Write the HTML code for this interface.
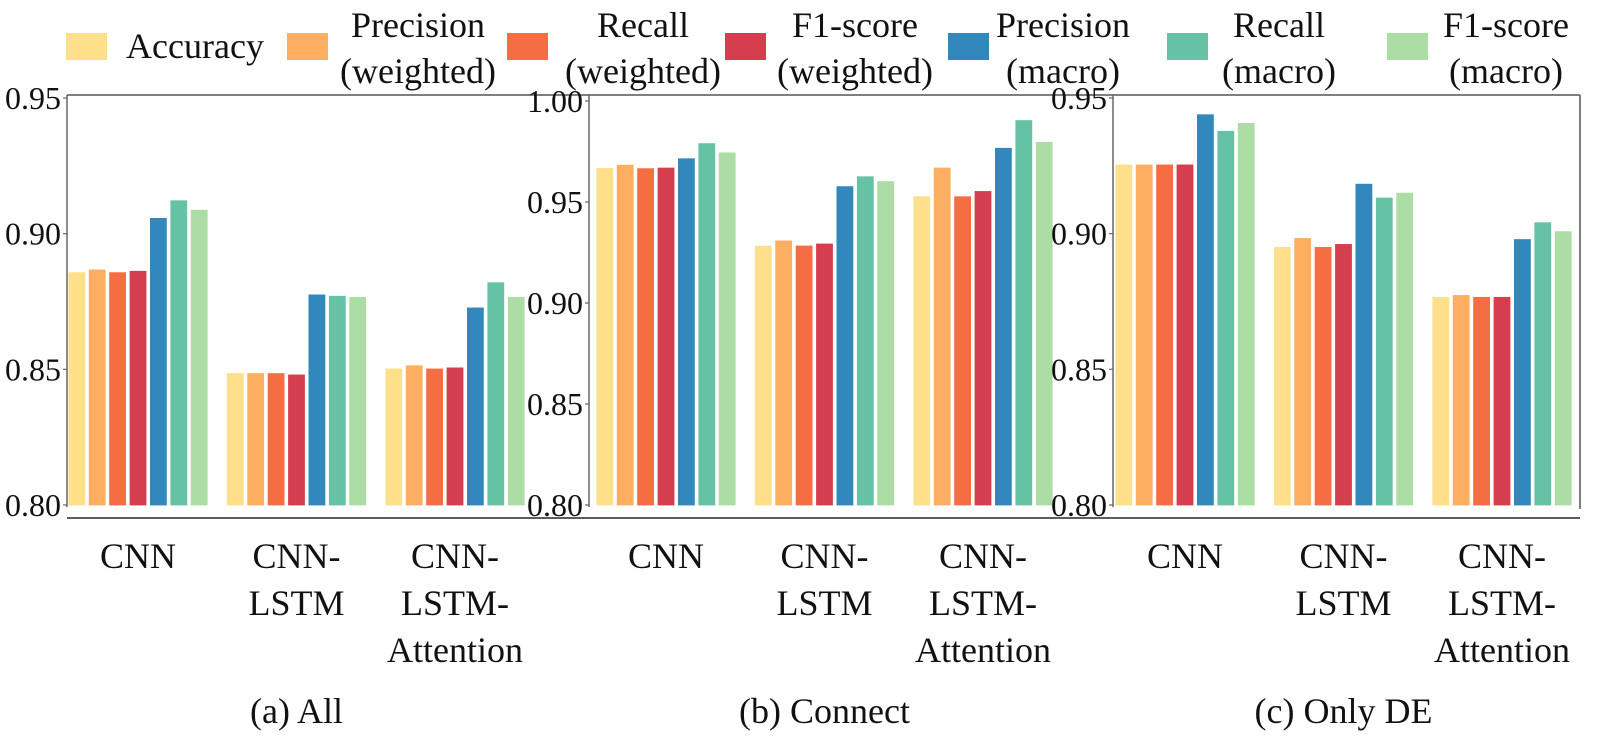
<!DOCTYPE html>
<html><head><meta charset="utf-8">
<style>
html,body{margin:0;padding:0;background:#fff;}
svg{display:block;}
svg text{font-family:"Liberation Serif","DejaVu Serif",serif;}
</style></head>
<body>
<svg id="chart" width="1599" height="743" viewBox="0 0 1599 743" xmlns="http://www.w3.org/2000/svg" font-family="'Liberation Serif', 'DejaVu Serif', serif">
  <g id="legend"></g>
  <g id="plots"></g>
</svg>
<script>
// ---- data ----
const categories = [["CNN"], ["CNN-", "LSTM"], ["CNN-", "LSTM-", "Attention"]];
const seriesNames = [["Accuracy"], ["Precision", "(weighted)"], ["Recall", "(weighted)"], ["F1-score", "(weighted)"], ["Precision", "(macro)"], ["Recall", "(macro)"], ["F1-score", "(macro)"]];
const colors = ["#fee08b", "#fdae61", "#f46d43", "#d53e4f", "#3288bd", "#66c2a5", "#abdda4"];
const panelTitles = ["(a) All", "(b) Connect", "(c) Only DE"];
const valuesAll = [
  [0.886, 0.887, 0.886, 0.8865, 0.906, 0.9125, 0.909],
  [0.8488, 0.8488, 0.8488, 0.8483, 0.8778, 0.8773, 0.8769],
  [0.8505, 0.8517, 0.8505, 0.8509, 0.873, 0.8823, 0.8769]
];
const valuesConnect = [
  [0.9671, 0.9687, 0.967, 0.9673, 0.9719, 0.9794, 0.9748],
  [0.9287, 0.9312, 0.9287, 0.9297, 0.9581, 0.963, 0.9606],
  [0.9531, 0.9673, 0.9531, 0.9557, 0.9771, 0.9908, 0.98]
];
const valuesOnlyDE = [
  [0.9257, 0.9257, 0.9257, 0.9257, 0.9442, 0.9381, 0.941],
  [0.8953, 0.8986, 0.8953, 0.8964, 0.9186, 0.9135, 0.9153],
  [0.8769, 0.8776, 0.8769, 0.8769, 0.8982, 0.9044, 0.9011]
];
const ticksAll = [0.80, 0.85, 0.90, 0.95];
const ticksConnect = [0.80, 0.85, 0.90, 0.95, 1.00];
const ticksOnlyDE = [0.80, 0.85, 0.90, 0.95];
const domainAll = [0.80, 0.95];
const domainConnect = [0.80, 1.00];
const domainOnlyDE = [0.80, 0.95];

// ---- layout ----
const NS = "http://www.w3.org/2000/svg";
const FONT = "'Liberation Serif', 'DejaVu Serif', serif";
const legendG = document.getElementById("legend");
const plotsG = document.getElementById("plots");
function mk(tag, attrs, parent) {
  const e = document.createElementNS(NS, tag);
  for (const k in attrs) e.setAttribute(k, attrs[k]);
  if (tag === "text") e.setAttribute("font-family", FONT);
  parent.appendChild(e);
  return e;
}
const yBottom = 505;
const panels = [
  {axisX: 67, yTop: 98, values: valuesAll, ticks: ticksAll, domain: domainAll, title: panelTitles[0], key: "all"},
  {axisX: 589, yTop: 101, values: valuesConnect, ticks: ticksConnect, domain: domainConnect, title: panelTitles[1], key: "connect"},
  {axisX: 1113, yTop: 98, values: valuesOnlyDE, ticks: ticksOnlyDE, domain: domainOnlyDE, title: panelTitles[2], key: "only-de"}
];
const groupOffset = [71, 77, 72];
const groupStep = 158.5;
const barStep = 20.4;
const barW = 18;

let l;
l = mk("line", {x1: 67, y1: 95, x2: 1580, y2: 95, stroke: "#555", "stroke-width": 1.5}, plotsG);


l = mk("line", {x1: 67, y1: 518, x2: 1580, y2: 518, stroke: "#444", "stroke-width": 1.8}, plotsG);


l = mk("line", {x1: 1580, y1: 95, x2: 1580, y2: 509, stroke: "#555", "stroke-width": 1.5}, plotsG);



panels.forEach((p, pi) => {
  const g = mk("g", {}, plotsG);
  
  
  const y = v => yBottom - (v - p.domain[0]) / (p.domain[1] - p.domain[0]) * (yBottom - p.yTop);
  const groupCenter = gi => p.axisX + groupOffset[pi] + gi * groupStep;
  p.values.forEach((row, gi) => {
    row.forEach((v, si) => {
      const cx = groupCenter(gi) + (si - 3) * barStep;
      const r = mk("rect", {x: cx - barW / 2, y: y(v), width: barW, height: yBottom + 1 - y(v), fill: colors[si], stroke: "#fff", "stroke-width": 1.2}, g);
      
      
    });
  });
  const ax = mk("line", {x1: p.axisX, y1: 95, x2: p.axisX, y2: 507, stroke: "#666", "stroke-width": 1.5}, g);
  
  
  p.ticks.forEach(t => {
    const tk = mk("line", {x1: p.axisX - 4, y1: y(t), x2: p.axisX, y2: y(t), stroke: "#666", "stroke-width": 1.2}, g);
    
    
    const tx = mk("text", {x: p.axisX - 6, y: y(t) + 11, "text-anchor": "end", "font-size": 32, fill: "#111"}, g);
    tx.textContent = t.toFixed(2);
    
    
  });
  categories.forEach((lines, gi) => {
    const t = mk("text", {"text-anchor": "middle", "font-size": 36, fill: "#111"}, g);
    
    
    lines.forEach((ln, li) => {
      const ts = mk("tspan", {x: groupCenter(gi), y: 568 + li * 47}, t);
      ts.textContent = ln;
    });
  });
  const cap = mk("text", {x: groupCenter(1), y: 723, "text-anchor": "middle", "font-size": 36, fill: "#111"}, g);
  cap.textContent = p.title;
  
  
});

const swatchX = [66, 287, 507, 725, 948, 1167, 1387];
const labelCX = [195, 418, 643, 855, 1063, 1279, 1506];
seriesNames.forEach((lines, si) => {
  const g = mk("g", {}, legendG);
  
  
  const r = mk("rect", {x: swatchX[si], y: 33, width: 41, height: 27, fill: colors[si]}, g);
  
  
  const t = mk("text", {"text-anchor": "middle", "font-size": 36, fill: "#111"}, g);
  
  
  if (lines.length === 1) {
    const ts = mk("tspan", {x: labelCX[si], y: 58}, t);
    ts.textContent = lines[0];
  } else {
    lines.forEach((ln, li) => {
      const ts = mk("tspan", {x: labelCX[si], y: 37 + li * 46}, t);
      ts.textContent = ln;
    });
  }
});
</script>
</body></html>
